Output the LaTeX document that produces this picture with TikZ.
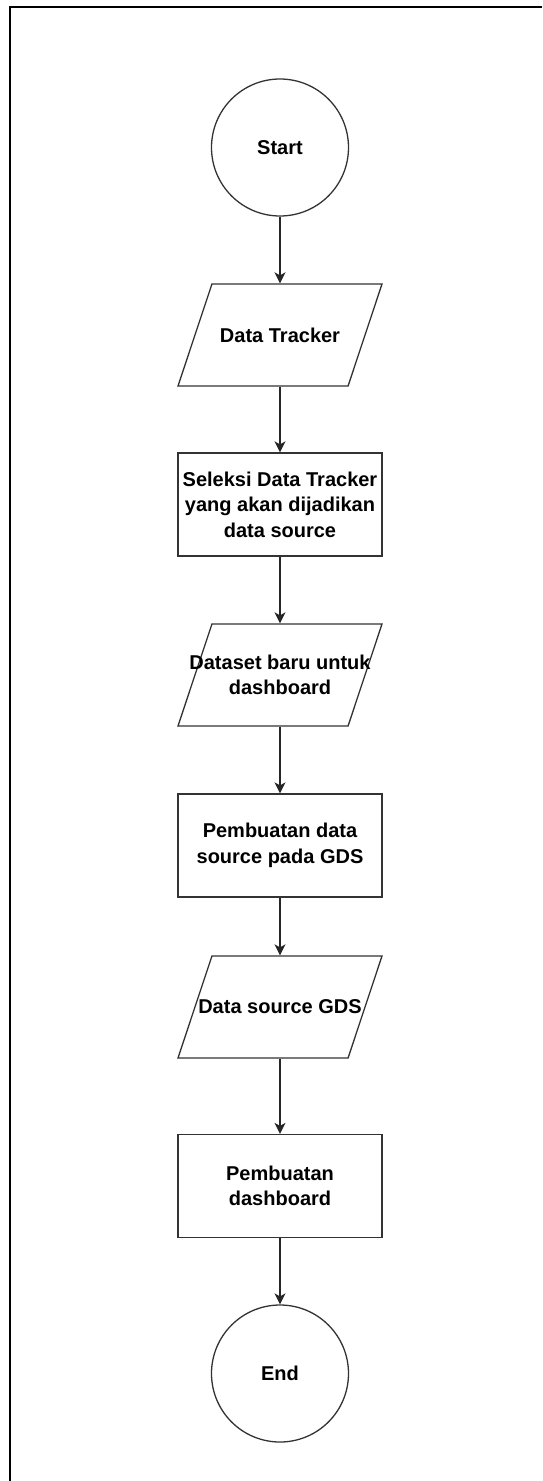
\documentclass[tikz,border=0pt]{standalone}
\usepackage{fontspec}
\setmainfont{Liberation Sans}
\usetikzlibrary{shapes.geometric, arrows.meta}
% text of a data box: fixed height, no width, so the slants come out right
\newcommand{\iotext}[1]{\parbox[c][102pt][c]{0pt}{\centering #1}}
\begin{document}
\begin{tikzpicture}[x=1pt, y=-1pt,
		every node/.style={draw=black!80, line width=1.3pt, inner sep=0pt, align=center,
			font=\fontsize{20}{25.5}\selectfont\bfseries},
		terminal/.style={circle, minimum size=137pt},
		process/.style={rectangle, minimum width=204pt, minimum height=103pt},
		io/.style={trapezium, trapezium left angle=71.6, trapezium right angle=108.4,
			trapezium stretches body, minimum width=204pt, minimum height=102pt},
		flow/.style={-{Stealth[length=11pt, width=11pt, inset=3pt]}, line width=1.3pt, black!85}]

		\useasboundingbox (0,0) rectangle (542,1481);
		\draw[line width=1.6pt] (10,1481) -- (10,7) -- (542,7);

		\node[terminal] (1) at (280,147.5) {Start};
		\node[io] (2) at (280,335) {\iotext{\makebox[0pt]{Data Tracker}}};
		\node[process] (3) at (280,504.5) {Seleksi Data Tracker\\yang akan dijadikan\\data source};
		\node[io] (4) at (280,675) {\iotext{\makebox[0pt]{Dataset baru untuk}\\\makebox[0pt]{dashboard}}};
		\node[process] (5) at (280,845.5) {Pembuatan data\\source pada GDS};
		\node[io] (6) at (280,1007) {\iotext{\makebox[0pt]{Data source GDS}}};
		\node[process] (7) at (280,1186) {Pembuatan\\dashboard};
		\node[terminal] (8) at (280,1373.5) {End};

		\draw[flow] (1) -- (2);
		\draw[flow] (2) -- (3);
		\draw[flow] (3) -- (4);
		\draw[flow] (4) -- (5);
		\draw[flow] (5) -- (6);
		\draw[flow] (6) -- (7);
		\draw[flow] (7) -- (8);
	\end{tikzpicture}
\end{document}
